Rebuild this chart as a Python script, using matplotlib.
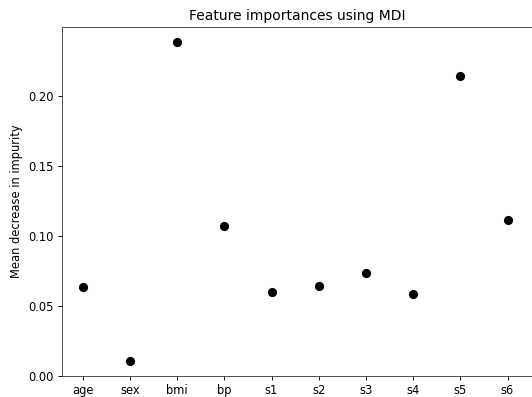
import matplotlib
matplotlib.use("Agg")
import matplotlib.pyplot as plt

# Feature names and their mean decrease in impurity
features = ["age", "sex", "bmi", "bp", "s1", "s2", "s3", "s4", "s5", "s6"]
importances = [0.0638, 0.0109, 0.238, 0.107, 0.060, 0.0645, 0.0736, 0.0584, 0.214, 0.111]

dpi = 83.125
fig = plt.figure(figsize=(532 / dpi, 397 / dpi), dpi=dpi)
ax = fig.add_axes([61.5 / 532, 21 / 397, 472 / 532, 349 / 397])

x = list(range(len(features)))
ax.scatter(x, importances, s=48, color="black", zorder=3)

ax.set_xticks(x)
ax.set_xticklabels(features)
ax.set_xlim(-0.45, 9.55)
ax.set_ylim(0, 0.249)
ax.set_yticks([0.00, 0.05, 0.10, 0.15, 0.20])
ax.set_title("Feature importances using MDI")
ax.set_ylabel("Mean decrease in impurity")
for sp in ax.spines.values():
    sp.set_color("#444444")

fig.savefig("out.png", dpi=dpi)
